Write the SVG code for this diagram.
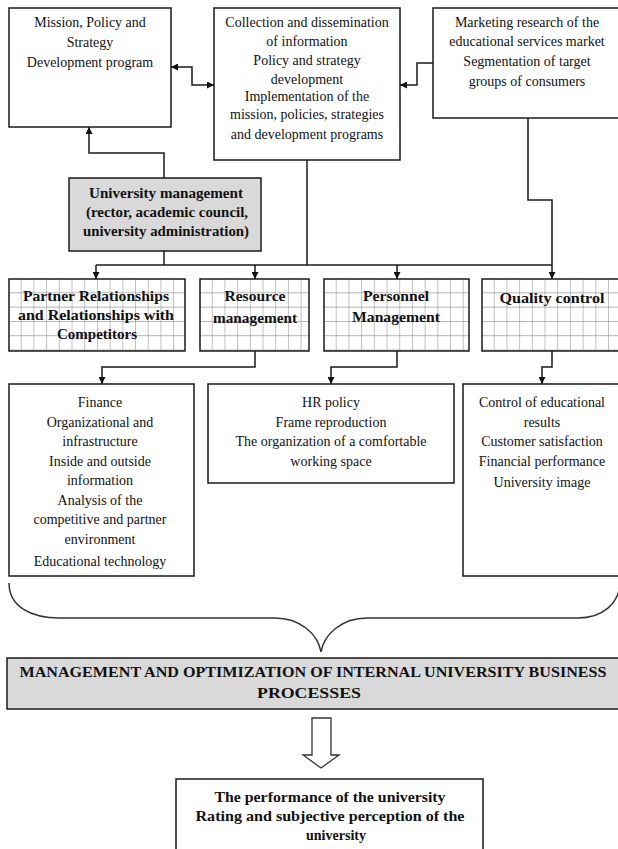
<svg xmlns="http://www.w3.org/2000/svg" width="618" height="849" viewBox="0 0 618 849">
<style>
  .box { fill: #ffffff; stroke: #1a1a1a; stroke-width: 1.5; }
  .gray { fill: #d9d9d9; stroke: #1a1a1a; stroke-width: 1.5; }
  .grid { fill: url(#gridpat); stroke: #1a1a1a; stroke-width: 1.5; }
  text { font-family: "Liberation Serif", "Times New Roman", serif; font-size: 14px; fill: #111; text-anchor: middle; }
  .b { font-weight: bold; }
  .conn path { fill: none; stroke: #1a1a1a; stroke-width: 1.5; }
  .brace { fill: none; stroke: #333; stroke-width: 1.5; }
  .hollow { fill: #fff; stroke: #333; stroke-width: 1.3; }
</style>
<defs>
  <pattern id="gridpat" patternUnits="userSpaceOnUse" width="12.7" height="14.3">
    <rect width="12.7" height="14.3" fill="#fff"/>
    <path d="M12.7,0 V14.3 M0,14.3 H12.7" stroke="#999" stroke-width="1.2" fill="none"/>
  </pattern>
  <marker id="ah" viewBox="0 0 10 10" refX="10" refY="5" markerWidth="7" markerHeight="7" markerUnits="userSpaceOnUse" orient="auto-start-reverse">
    <path d="M0,0 L10,5 L0,10 Z" fill="#111"/>
  </marker>
</defs>

<g id="conn" class="conn">
  <path d="M171,67 H192 V85 H214" marker-start="url(#ah)" marker-end="url(#ah)"/>
  <path d="M433,63 H417 V85 H400" marker-end="url(#ah)"/>
  <path d="M164,178 V153 H89 V127" marker-end="url(#ah)"/>
  <path d="M164,251 V265"/>
  <path d="M307,160 V265"/>
  <path d="M528,118 V200 H552 V265"/>
  <path d="M96,265 H552"/>
  <path d="M96,265 V279" marker-end="url(#ah)"/>
  <path d="M255,265 V279" marker-end="url(#ah)"/>
  <path d="M397,265 V279" marker-end="url(#ah)"/>
  <path d="M552,265 V279" marker-end="url(#ah)"/>
  <path d="M255,351 V367 H102 V384" marker-end="url(#ah)"/>
  <path d="M397,351 V367 H331 V384" marker-end="url(#ah)"/>
  <path d="M552,351 V367 H542 V384" marker-end="url(#ah)"/>
</g>

<g id="mission">
  <rect class="box" x="9" y="8" width="162" height="119"/>
  <text x="90" y="27">Mission, Policy and</text>
  <text x="90" y="47">Strategy</text>
  <text x="90" y="67">Development program</text>
</g>

<g id="collection">
  <rect class="box" x="214" y="8" width="186" height="152"/>
  <text x="307" y="27">Collection and dissemination</text>
  <text x="307" y="46">of information</text>
  <text x="307" y="65">Policy and strategy</text>
  <text x="307" y="84">development</text>
  <text x="307" y="101">Implementation of the</text>
  <text x="307" y="119">mission, policies, strategies</text>
  <text x="307" y="139">and development programs</text>
</g>

<g id="marketing">
  <rect class="box" x="433" y="8" width="190" height="110"/>
  <text x="527" y="27">Marketing research of the</text>
  <text x="527" y="46">educational services market</text>
  <text x="527" y="66">Segmentation of target</text>
  <text x="527" y="86">groups of consumers</text>
</g>

<g id="univ-mgmt">
  <rect class="gray" x="69" y="178" width="192" height="73"/>
  <text class="b" x="166" y="198" textLength="154" lengthAdjust="spacingAndGlyphs">University management</text>
  <text class="b" x="167" y="217" textLength="162" lengthAdjust="spacingAndGlyphs">(rector, academic council,</text>
  <text class="b" x="166" y="236" textLength="166" lengthAdjust="spacingAndGlyphs">university administration)</text>
</g>

<g id="partner" transform="translate(9,279)">
  <rect class="grid" x="0" y="0" width="176" height="72"/>
  <text class="b" x="87" y="22" textLength="146" lengthAdjust="spacingAndGlyphs">Partner Relationships</text>
  <text class="b" x="87" y="41" textLength="156" lengthAdjust="spacingAndGlyphs">and Relationships with</text>
  <text class="b" x="88" y="60" textLength="80" lengthAdjust="spacingAndGlyphs">Competitors</text>
</g>

<g id="resource" transform="translate(200,279)">
  <rect class="grid" x="0" y="0" width="109" height="72"/>
  <text class="b" x="55" y="22" textLength="61" lengthAdjust="spacingAndGlyphs">Resource</text>
  <text class="b" x="55" y="44" textLength="84" lengthAdjust="spacingAndGlyphs">management</text>
</g>

<g id="personnel" transform="translate(324,279)">
  <rect class="grid" x="0" y="0" width="145" height="72"/>
  <text class="b" x="72" y="22" textLength="66" lengthAdjust="spacingAndGlyphs">Personnel</text>
  <text class="b" x="72" y="43" textLength="88" lengthAdjust="spacingAndGlyphs">Management</text>
</g>

<g id="quality" transform="translate(482,279)">
  <rect class="grid" x="0" y="0" width="142" height="72"/>
  <text class="b" x="70" y="24" textLength="105" lengthAdjust="spacingAndGlyphs">Quality control</text>
</g>

<g id="finance">
  <rect class="box" x="9" y="384" width="185" height="192"/>
  <text x="100" y="406.5">Finance</text>
  <text x="100" y="426.5">Organizational and</text>
  <text x="100" y="446">infrastructure</text>
  <text x="100" y="465.5">Inside and outside</text>
  <text x="100" y="485">information</text>
  <text x="100" y="505">Analysis of the</text>
  <text x="100" y="524">competitive and partner</text>
  <text x="100" y="544">environment</text>
  <text x="100" y="565.5">Educational technology</text>
</g>

<g id="hr">
  <rect class="box" x="208" y="384" width="246" height="99"/>
  <text x="331" y="406.5">HR policy</text>
  <text x="331" y="426.5">Frame reproduction</text>
  <text x="331" y="446">The organization of a comfortable</text>
  <text x="331" y="465.5">working space</text>
</g>

<g id="control">
  <rect class="box" x="463" y="384" width="160" height="192"/>
  <text x="542" y="406.5">Control of educational</text>
  <text x="542" y="426.5">results</text>
  <text x="542" y="446">Customer satisfaction</text>
  <text x="542" y="465.5">Financial performance</text>
  <text x="542" y="486.5">University image</text>
</g>

<path class="brace" d="M9,583 C9,606 30,618 60,618 H275 C300,618 318,634 321,652 C324,634 342,618 367,618 H578 C602,618 619,604 620,583"/>

<g id="optimization">
  <rect class="gray" x="7" y="658" width="615" height="51"/>
  <text class="b" x="313" y="677" textLength="587" lengthAdjust="spacingAndGlyphs">MANAGEMENT AND OPTIMIZATION OF INTERNAL UNIVERSITY BUSINESS</text>
  <text class="b" x="309" y="698" textLength="104" lengthAdjust="spacingAndGlyphs">PROCESSES</text>
</g>

<polygon class="hollow" points="312,718 331,718 331,755 339,755 321,768 303,755 312,755"/>

<g id="performance">
  <rect class="box" x="176" y="779" width="307" height="80"/>
  <text class="b" x="330" y="802" textLength="231" lengthAdjust="spacingAndGlyphs">The performance of the university</text>
  <text class="b" x="330" y="821" textLength="269" lengthAdjust="spacingAndGlyphs">Rating and subjective perception of the</text>
  <text class="b" x="336" y="840">university</text>
</g>
</svg>
